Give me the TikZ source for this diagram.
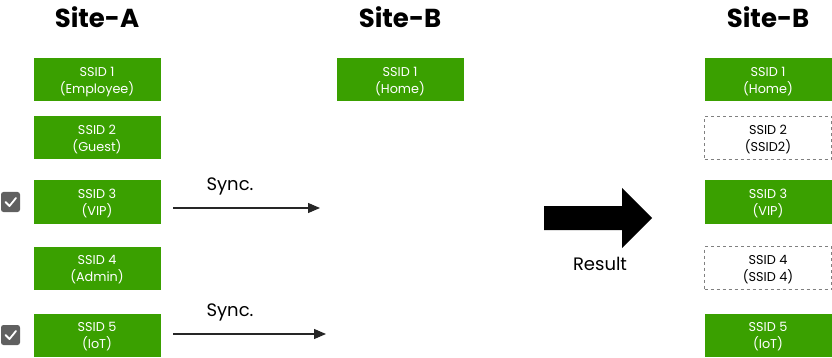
\documentclass[tikz,border=0pt]{standalone}
\usepackage{fontspec}
\setmainfont{Poppins}
\usetikzlibrary{arrows.meta}

\definecolor{ssidgreen}{RGB}{58,160,0}
\definecolor{boxgray}{RGB}{128,128,128}
\definecolor{tickgray}{RGB}{96,96,96}

\tikzset{
  ssid/.style={fill=ssidgreen, text=white, minimum width=127, minimum height=43,
    align=center, inner sep=0pt, text depth=0pt, font=\fontsize{12.8}{17}\selectfont},
  ssidnew/.style={ssid, fill=white, text=black, draw=boxgray, dashed, line width=0.8pt},
  site/.style={font=\fontsize{26}{30}\selectfont\bfseries},
  synclabel/.style={font=\fontsize{18}{21}\selectfont},
  syncarrow/.style={-{Triangle[length=12pt,width=10pt]}, line width=1.1pt, draw=black!85}
}

\begin{document}
\begin{tikzpicture}[x=1pt,y=-1pt]
	\useasboundingbox (0,0) rectangle (832,358);
	% titles
	\node[site] (siteA) at (97,17) {Site-A};
	\node[site] (siteB) at (400,17) {Site-B};
	\node[site] (siteR) at (768,17) {Site-B};
	% site A
	\node[ssid] (a1) at (97,80) {SSID 1\\(Employee)};
	\node[ssid] (a2) at (97,138) {SSID 2\\(Guest)};
	\node[ssid] (a3) at (97,202) {SSID 3\\(VIP)};
	\node[ssid] (a4) at (97,268) {SSID 4\\(Admin)};
	\node[ssid] (a5) at (97,335) {SSID 5\\(IoT)};
	% site B
	\node[ssid] (b1) at (400,80) {SSID 1\\(Home)};
	% result
	\node[ssid] (r1) at (768,80) {SSID 1\\(Home)};
	\node[ssidnew] (r2) at (768,138) {SSID 2\\(SSID2)};
	\node[ssid] (r3) at (768,202) {SSID 3\\(VIP)};
	\node[ssidnew] (r4) at (768,268) {SSID 4\\(SSID 4)};
	\node[ssid] (r5) at (768,335) {SSID 5\\(IoT)};
	% check boxes
	\foreach \y in {202,335}{
		\fill[tickgray, rounded corners=2.5pt] (1,\y-10) rectangle (20,\y+10);
		\draw[white, line width=1.8pt, line cap=round, line join=round]
			(5.5,\y) -- (9.5,\y+4) -- (16,\y-4);
	}
	% sync arrows
	\coordinate (s1) at (173,208);
	\coordinate (e1) at (320,208);
	\coordinate (s2) at (173,334);
	\coordinate (e2) at (326,334);
	\draw[syncarrow] (s1) -- (e1);
	\draw[syncarrow] (s2) -- (e2);
	\node[synclabel] (sync1) at (230,186) {Sync.};
	\node[synclabel] (sync2) at (230,312) {Sync.};
	% result arrow
	\fill (544,206) -- (622,206) -- (622,188) -- (652,218) -- (622,248)
		-- (622,230) -- (544,230) -- cycle;
	\node[synclabel] (result) at (600,264) {Result};
\end{tikzpicture}
\end{document}
